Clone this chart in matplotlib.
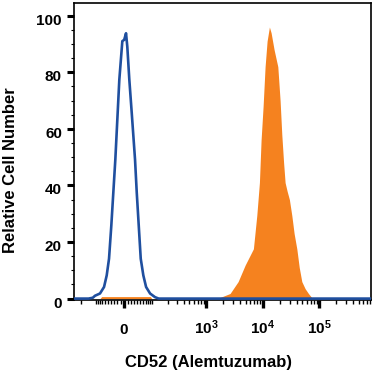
import numpy as np
import matplotlib
matplotlib.use("Agg")
import matplotlib.pyplot as plt
from matplotlib.ticker import FixedLocator, NullFormatter
from matplotlib.transforms import ScaledTranslation

plt.rcParams['font.family'] = ['Liberation Sans', 'DejaVu Sans']
plt.rcParams['font.weight'] = 'bold'
plt.rcParams['mathtext.fontset'] = 'custom'
plt.rcParams['mathtext.rm'] = 'Liberation Sans:bold'
plt.rcParams['mathtext.bf'] = 'Liberation Sans:bold'
plt.rcParams['mathtext.it'] = 'Liberation Sans:bold'

# ---- data (fluorescence intensity, relative cell number) ----
isotype_x = [-264, -140, -115, -103.5, -80, -63.5, -53.6, -45.5, -37.9, -31.5, -25.3,
             -13.5, -4.85, 0.5, 5.7, 9.4, 15.2, 22.3, 32.4, 37.9, 44.5, 51.4, 60.9,
             71.7, 89, 114, 135, 818000]
isotype_y = [0, 0, 0.3, 1, 1.8, 4.1, 8.2, 14.1, 25.8, 37.5, 49.2,
             77.4, 91, 91.5, 93.8, 89, 77.4, 65.7, 49.2, 37.5, 25.8, 14.1, 8.2,
             4.1, 1.8, 0.5, 0, 0]

cd52_x = [-264, -80, -73, 90, 97, 1000, 1030, 1750, 2630, 3650, 4850, 6800, 7810,
          8690, 9300, 10100, 10950, 11880, 13050, 13980, 15800, 18380, 20180,
          21620, 23280, 24740, 26840, 29470, 32510, 35720, 39860, 44000, 48860,
          55930, 63950, 73500, 87570, 818000]
cd52_y = [0, 0, 0.7, 0.7, 0, 0, 0.3, 0.4, 1.8, 6, 11.8, 17.6, 29.4,
          41, 56, 68, 82, 91, 96, 94, 88, 82, 70,
          58, 48, 41, 38, 35, 29.4, 23, 17.6, 11, 6,
          3.5, 1.8, 0.3, 0, 0]

major_ticks = [0, 1e3, 1e4, 1e5]
major_labels = ['0', r'$\mathbf{10^{3}}$', r'$\mathbf{10^{4}}$', r'$\mathbf{10^{5}}$']
minor_ticks = ([-v for v in range(10, 100, 10)] + list(range(10, 100, 10))
               + [-200, -100] + list(range(100, 1000, 100))
               + [m * 1e3 for m in range(2, 10)] + [m * 1e4 for m in range(2, 10)]
               + [m * 1e5 for m in range(2, 9)])
y_major = [0, 20, 40, 60, 80, 100]
y_minor = list(range(5, 100, 5))

W = 70.0
def fwd(x):
    return np.arcsinh(np.asarray(x, dtype=float) / W) / np.log(10)
def inv(y):
    return W * np.sinh(np.asarray(y, dtype=float) * np.log(10))

fig = plt.figure(figsize=(3.73, 3.73), dpi=100)
ax = fig.add_axes([74/373, 73/373, 297/373, 297/373])
ax.set_xscale('function', functions=(fwd, inv))
ax.set_xlim(-264, 818000)
ax.set_ylim(-0.5, 104.5)

ax.fill_between(cd52_x, cd52_y, 0, color='#F5821F', linewidth=0, zorder=2)
ax.plot(isotype_x, isotype_y, color='#1F4F9F', linewidth=1.9, zorder=3,
        solid_joinstyle='round')

ax.xaxis.set_major_locator(FixedLocator(major_ticks))
ax.set_xticklabels(major_labels)
ax.xaxis.set_minor_locator(FixedLocator(minor_ticks))
ax.xaxis.set_minor_formatter(NullFormatter())
ax.yaxis.set_major_locator(FixedLocator(y_major))
ax.yaxis.set_minor_locator(FixedLocator(y_minor))

ax.tick_params(axis='x', which='major', direction='out', length=6, width=2.4,
               pad=18.5, labelsize=11)
ax.tick_params(axis='x', which='minor', direction='out', length=3, width=1.0)
ax.tick_params(axis='y', which='major', direction='out', length=5.3, width=2.2,
               pad=3.4, labelsize=11)
ax.tick_params(axis='y', which='minor', direction='out', length=2.5, width=0.8)

for lbl in ax.get_xticklabels():
    lbl.set_verticalalignment('baseline')
    lbl.set_fontweight('bold')
off = ScaledTranslation(0, -3.5/100, fig.dpi_scale_trans)
for lbl in ax.get_yticklabels():
    lbl.set_transform(lbl.get_transform() + off)
    lbl.set_fontweight('bold')

for s in ax.spines.values():
    s.set_linewidth(1.2)
    s.set_color('black')

fig.text(208/373, 1 - 366.5/373, 'CD52 (Alemtuzumab)', ha='center', va='baseline',
         fontsize=12, fontweight='bold')
fig.text(10.5/373, 1 - 170.5/373, 'Relative Cell Number', ha='center', va='center',
         rotation=90, fontsize=12, fontweight='bold')

fig.savefig('out.png', dpi=100)
